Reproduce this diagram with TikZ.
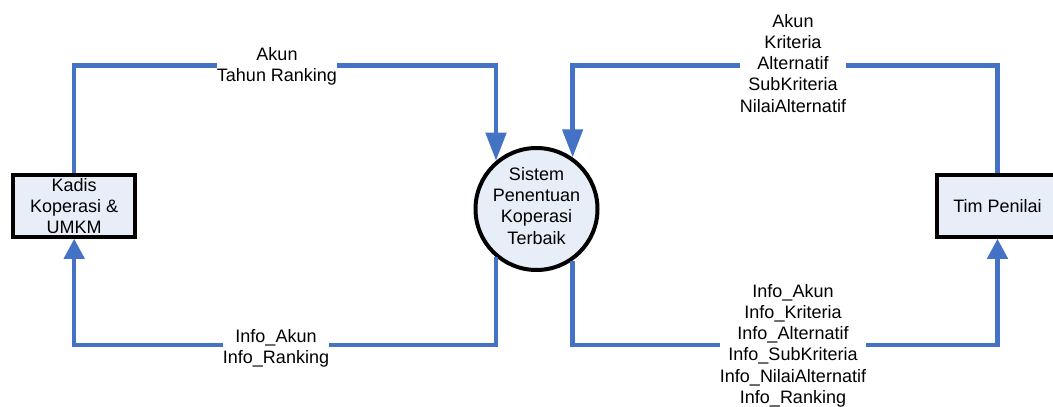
\documentclass[tikz,border=0pt]{standalone}
\usepackage{fontspec}
\setmainfont{Liberation Sans}
\usetikzlibrary{arrows.meta}
\definecolor{flowblue}{RGB}{68,114,196}
\definecolor{boxfill}{RGB}{232,238,247}
\begin{document}
\begin{tikzpicture}[x=1pt,y=-1pt,
  every node/.style={font=\fontsize{18}{21.25}\selectfont},
  entity/.style={draw=black, line width=4pt, fill=boxfill,
    minimum width=121.7pt, minimum height=61.5pt, inner sep=0pt, align=center},
  process/.style={circle, draw=black, line width=4pt, fill=boxfill,
    minimum size=122pt, inner sep=0pt, align=center},
  flow/.style={draw=flowblue, line width=4.5pt},
  tipin/.style={-{Triangle[width=20pt,length=28pt]}},
  tipout/.style={-{Triangle[width=20pt,length=20pt]}},
  lbl/.style={fill=white, inner sep=0pt, align=center, anchor=north}]
  \useasboundingbox (0,0) rectangle (1053,407);

  % external entities and the process
  \node[entity]  (kadis) at (74.2,206) {Kadis\\Koperasi \&\\UMKM};
  \node[entity]  (tim)   at (997.5,206) {Tim Penilai};
  \node[process] (sys)   at (536.5,209) {Sistem\\Penentuan\\Koperasi\\Terbaik\strut};

  % heights of the horizontal runs
  \coordinate (topy) at (0,65.3);
  \coordinate (boty) at (0,345);

  % data flows
  \draw[flow,tipin]  (kadis.north) |- (sys.130 |- topy) -- (sys.130);
  \draw[flow,tipin]  (tim.north) |- (sys.55 |- topy) -- (sys.55);
  \draw[flow,tipout] (sys.230) -- (sys.230 |- boty) -| (kadis.south);
  \draw[flow,tipout] (sys.305) -- (sys.305 |- boty) -| (tim.south);

  % flow labels
  \node[lbl] (l1) at (277,47.1) {Akun\\Tahun Ranking};
  \node[lbl] (l2) at (276,328.8) {Info\_Akun\\Info\_Ranking};
  \node[lbl] (l3) at (793,13.8) {Akun\\Kriteria\\Alternatif\\SubKriteria\\NilaiAlternatif};
  \node[lbl] (l4) at (793,283.8) {Info\_Akun\\Info\_Kriteria\\Info\_Alternatif\\Info\_SubKriteria\\Info\_NilaiAlternatif\\Info\_Ranking};
\end{tikzpicture}
\end{document}
